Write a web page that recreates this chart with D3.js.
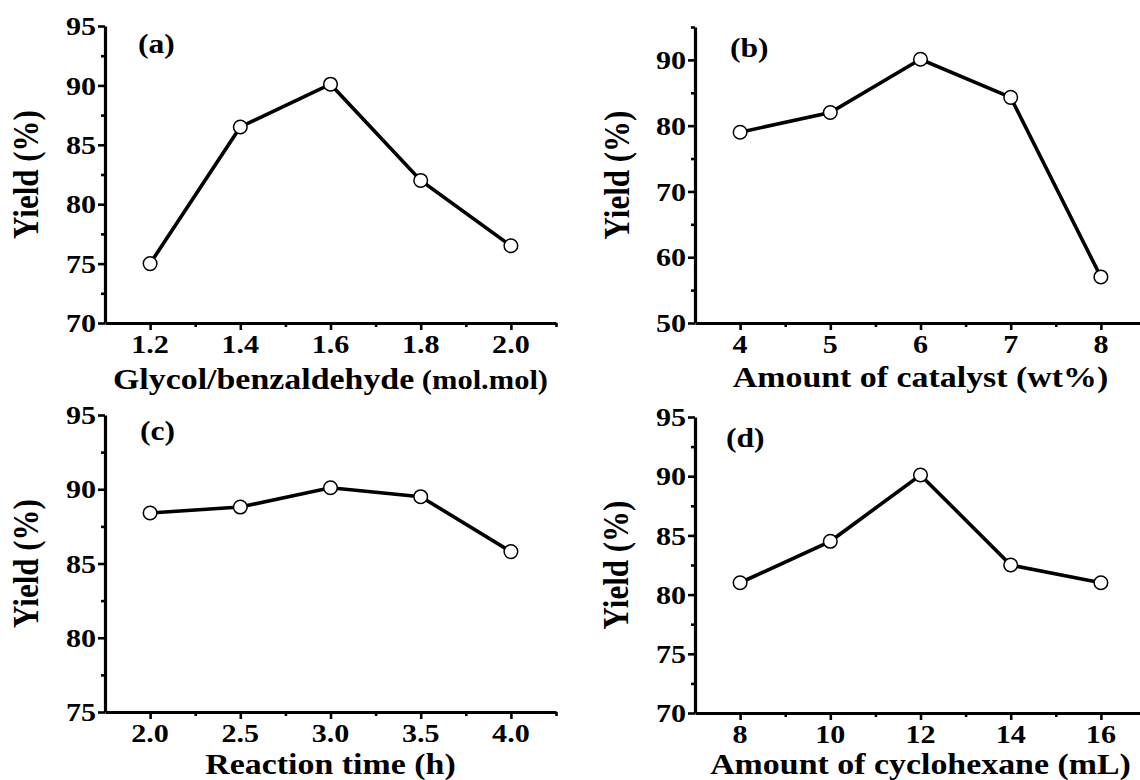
<!DOCTYPE html>
<html>
<head>
<meta charset="utf-8">
<script src="https://cdn.jsdelivr.net/npm/d3@7"></script>
<style>
  body { margin: 0; background: #fff; }
  text { font-family: "Liberation Serif", "Times New Roman", serif; font-weight: bold; fill: #000; }
</style>
</head>
<body>
<div id="chart"></div>
<script>
// ---- data ----
var ratioX = [1.2, 1.4, 1.6, 1.8, 2.0];
var ratioY = [75, 86.5, 90.1, 82, 76.5];
var catalystX = [4, 5, 6, 7, 8];
var catalystY = [79, 82, 90.1, 84.3, 57];
var timeX = [2.0, 2.5, 3.0, 3.5, 4.0];
var timeY = [88.4, 88.8, 90.1, 89.5, 85.8];
var cycloX = [8, 10, 12, 14, 16];
var cycloY = [81, 84.5, 90.1, 82.5, 81];

// ---- tick values ----
var ticksXA = [1.2, 1.4, 1.6, 1.8, 2.0], minorXA = [1.3, 1.5, 1.7, 1.9, 2.1];
var ticksYA = [70, 75, 80, 85, 90, 95], minorYA = [72.5, 77.5, 82.5, 87.5, 92.5];
var ticksXB = [4, 5, 6, 7, 8], minorXB = [4.5, 5.5, 6.5, 7.5, 8.5];
var ticksYB = [50, 60, 70, 80, 90], minorYB = [55, 65, 75, 85, 95];
var ticksXC = [2.0, 2.5, 3.0, 3.5, 4.0], minorXC = [2.25, 2.75, 3.25, 3.75, 4.25];
var ticksYC = [75, 80, 85, 90, 95], minorYC = [77.5, 82.5, 87.5, 92.5];
var ticksXD = [8, 10, 12, 14, 16], minorXD = [9, 11, 13, 15, 17];
var ticksYD = [70, 75, 80, 85, 90, 95], minorYD = [72.5, 77.5, 82.5, 87.5, 92.5];

var W = 1140, H = 780;
var sx = 1.13;     // the source figure is a bit stretched sideways
var sxTick = 1.18;

var svg = d3.select("#chart").append("svg")
  .attr("width", W)
  .attr("height", H);

var panels = [
  { tag: "(a)", xs: ratioX, ys: ratioY, xDom: [1.1, 2.1], yDom: [70, 95],
    xT: ticksXA, xM: minorXA, yT: ticksYA, yM: minorYA, fmt: d3.format(".1f"),
    left: 105, top: 26, bottom: 323, tagX: 138, tagY: 53,
    title: "Glycol/benzaldehyde", small: " (mol.mol)", titleY: 389, ytX: 38 },
  { tag: "(b)", xs: catalystX, ys: catalystY, xDom: [3.5, 8.5], yDom: [50, 95],
    xT: ticksXB, xM: minorXB, yT: ticksYB, yM: minorYB, fmt: d3.format("d"),
    left: 695, top: 27, bottom: 323, tagX: 730, tagY: 57,
    title: "Amount of catalyst (wt%)", small: "", titleY: 387, ytX: 629 },
  { tag: "(c)", xs: timeX, ys: timeY, xDom: [1.75, 4.25], yDom: [75, 95],
    xT: ticksXC, xM: minorXC, yT: ticksYC, yM: minorYC, fmt: d3.format(".1f"),
    left: 105, top: 415, bottom: 712, tagX: 140, tagY: 440,
    title: "Reaction time (h)", small: "", titleY: 774, ytX: 38 },
  { tag: "(d)", xs: cycloX, ys: cycloY, xDom: [7, 17], yDom: [70, 95],
    xT: ticksXD, xM: minorXD, yT: ticksYD, yM: minorYD, fmt: d3.format("d"),
    left: 695, top: 417, bottom: 713, tagX: 726, tagY: 447,
    title: "Amount of cyclohexane (mL)", small: "", titleY: 774, ytX: 628 }
];

var plotW = 451;

panels.forEach(function (p) {
  var x = d3.scaleLinear().domain(p.xDom).range([p.left, p.left + plotW]);
  var y = d3.scaleLinear().domain(p.yDom).range([p.bottom, p.top]);
  var g = svg.append("g");

  // minor ticks
  g.append("g")
    .attr("transform", "translate(0," + p.bottom + ")")
    .call(d3.axisBottom(x).tickValues(p.xM).tickSize(4).tickFormat(""))
    .call(function (a) { a.select(".domain").remove(); });
  g.append("g")
    .attr("transform", "translate(" + p.left + ",0)")
    .call(d3.axisLeft(y).tickValues(p.yM).tickSize(4).tickFormat(""))
    .call(function (a) { a.select(".domain").remove(); });

  // major ticks + axis lines
  g.append("g")
    .attr("transform", "translate(0," + p.bottom + ")")
    .call(d3.axisBottom(x).tickValues(p.xT).tickSize(7).tickSizeOuter(0).tickFormat(""));
  g.append("g")
    .attr("transform", "translate(" + p.left + ",0)")
    .call(d3.axisLeft(y).tickValues(p.yT).tickSize(7).tickSizeOuter(0).tickFormat(""));

  g.selectAll(".domain").attr("stroke", "#000").attr("stroke-width", 3.2);
  g.selectAll(".tick line").attr("stroke", "#000").attr("stroke-width", 2.6);

  // tick labels
  g.selectAll(".xlab")
    .data(p.xT)
    .enter()
    .append("text")
    .attr("transform", function (d) { return "translate(" + x(d) + "," + (p.bottom + 30) + ") scale(" + sxTick + ",1)"; })
    .attr("text-anchor", "middle")
    .style("font-size", "25.5px")
    .text(p.fmt);
  g.selectAll(".ylab")
    .data(p.yT)
    .enter()
    .append("text")
    .attr("transform", function (d) { return "translate(" + (p.left - 9) + "," + y(d) + ") scale(" + sxTick + ",1)"; })
    .attr("text-anchor", "end")
    .attr("dy", "0.36em")
    .style("font-size", "25.5px")
    .text(function (d) { return d; });

  // axis titles
  var t = g.append("text")
    .attr("transform", "translate(" + (p.left + plotW / 2) + "," + p.titleY + ") scale(" + sx + ",1)")
    .attr("text-anchor", "middle")
    .style("font-size", "30px")
    .text(p.title);
  if (p.small) {
    t.append("tspan").style("font-size", "27px").text(p.small);
  }
  g.append("text")
    .attr("transform", "translate(" + p.ytX + "," + ((p.top + p.bottom) / 2) + ") scale(" + sx + ",1) rotate(-90)")
    .attr("text-anchor", "middle")
    .style("font-size", "31px")
    .text("Yield (%)");

  // panel tag
  g.append("text")
    .attr("transform", "translate(" + p.tagX + "," + p.tagY + ") scale(" + sx + ",1)")
    .style("font-size", "28px")
    .text(p.tag);

  // line + open circles
  var pts = p.xs.map(function (d, i) { return [d, p.ys[i]]; });
  g.append("path")
    .datum(pts)
    .attr("fill", "none")
    .attr("stroke", "#000")
    .attr("stroke-width", 3.6)
    .attr("stroke-linejoin", "miter")
    .attr("d", d3.line().x(function (d) { return x(d[0]); }).y(function (d) { return y(d[1]); }));
  g.selectAll("circle")
    .data(pts)
    .enter()
    .append("circle")
    .attr("cx", function (d) { return x(d[0]); })
    .attr("cy", function (d) { return y(d[1]); })
    .attr("r", 6.8)
    .attr("fill", "#fff")
    .attr("stroke", "#000")
    .attr("stroke-width", 1.5);
});
</script>
</body>
</html>
